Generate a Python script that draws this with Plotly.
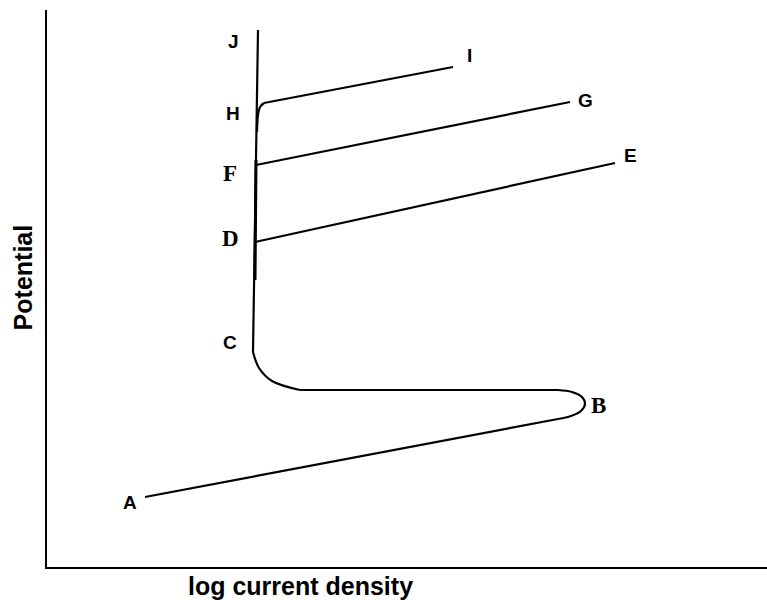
import plotly.graph_objects as go

# Schematic anodic polarization curve of an active-passive metal.
# Coordinates are in arbitrary units: x = log current density, y = potential.

# Active branch A -> B
active_x = [98, 511]
active_y = [70, 148]

# Nose around B (active peak)
nose_x = [511, 524, 534, 538, 535, 525, 511]
nose_y = [148, 151, 156, 163, 170, 175, 177]

# Active-passive transition
transition_x = [511, 253]
transition_y = [177, 177]

# Knee at C, onset of passivity
knee_x = [253, 225, 212, 206]
knee_y = [177, 186, 199, 215]

# Passive region C -> J
passive_x = [206, 211]
passive_y = [215, 537]

# Thicker stretch of the passive line
film_x = [208, 209]
film_y = [287, 407]

# Breakdown branches D -> E and F -> G
de_x = [208, 568]
de_y = [325, 404]
fg_x = [209, 523]
fg_y = [402, 465]

# Bend at H and the H -> I branch
h_bend_x = [210, 211, 213, 217]
h_bend_y = [435, 452, 460, 464]
hi_x = [217, 406]
hi_y = [464, 500]

# Point labels
sans_labels = ["J", "I", "H", "G", "E", "C", "A"]
sans_x = [186, 422, 186, 538, 583, 183, 83]
sans_y = [526, 512, 454, 467, 412, 225, 65]
serif_labels = ["F", "D", "B"]
serif_x = [183, 183, 551]
serif_y = [394, 329, 162]

fig = go.Figure()

def add_segment(xs, ys, shape="linear", width=2.2):
    fig.add_trace(go.Scatter(
        x=xs, y=ys, mode="lines",
        line=dict(color="black", width=width, shape=shape, smoothing=1.0),
        hoverinfo="skip", showlegend=False,
    ))

add_segment(active_x, active_y)
add_segment(nose_x, nose_y, shape="spline")
add_segment(transition_x, transition_y)
add_segment(knee_x, knee_y, shape="spline")
add_segment(passive_x, passive_y)
add_segment(film_x, film_y, width=3)
add_segment(de_x, de_y)
add_segment(fg_x, fg_y)
add_segment(h_bend_x, h_bend_y, shape="spline")
add_segment(hi_x, hi_y)

annotations = []
for t, x, y in zip(sans_labels, sans_x, sans_y):
    annotations.append(dict(
        x=x, y=y, xref="x", yref="y", text=f"<b>{t}</b>", showarrow=False,
        xanchor="center", yanchor="middle",
        font=dict(family="Liberation Sans, Arial, sans-serif", size=19, color="black"),
    ))
for t, x, y in zip(serif_labels, serif_x, serif_y):
    annotations.append(dict(
        x=x, y=y, xref="x", yref="y", text=f"<b>{t}</b>", showarrow=False,
        xanchor="center", yanchor="middle",
        font=dict(family="Liberation Serif, Times New Roman, serif", size=23, color="black"),
    ))

title_font = dict(family="Liberation Sans, Arial, sans-serif", size=25, color="black")
annotations.append(dict(
    x=-0.0333, y=0.52, xref="paper", yref="paper", text="<b>Potential</b>",
    showarrow=False, textangle=-90, xanchor="center", yanchor="middle", font=title_font,
))
annotations.append(dict(
    x=0.352, y=-0.034, xref="paper", yref="paper", text="<b>log current density</b>",
    showarrow=False, xanchor="center", yanchor="middle", font=title_font,
))

fig.update_layout(
    width=767, height=600,
    margin=dict(l=47, r=0, t=10, b=33),
    paper_bgcolor="white", plot_bgcolor="white",
    annotations=annotations,
    xaxis=dict(range=[0, 720], showgrid=False, zeroline=False, showticklabels=False,
               ticks="", showline=True, linecolor="black", linewidth=2, fixedrange=True),
    yaxis=dict(range=[0, 557], showgrid=False, zeroline=False, showticklabels=False,
               ticks="", showline=True, linecolor="black", linewidth=2, fixedrange=True),
)

fig.write_html("out.html", config={"displayModeBar": False})
